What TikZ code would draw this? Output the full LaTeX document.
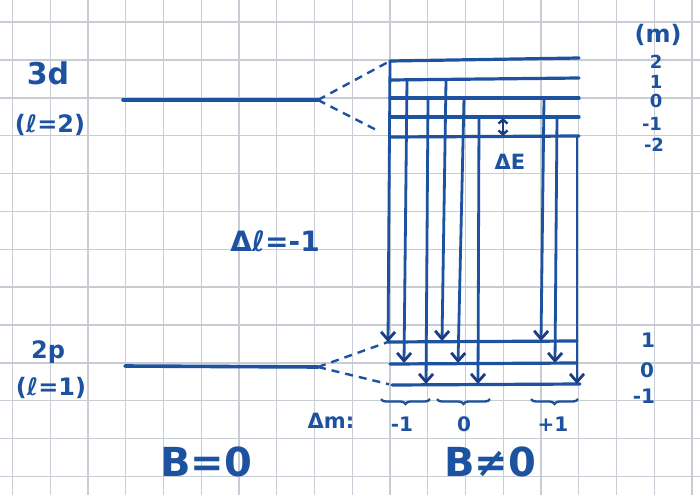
\documentclass[tikz,border=0pt]{standalone}
\usepackage{fontspec}
\setmainfont{DejaVu Sans}
\usetikzlibrary{arrows.meta,decorations.pathreplacing}
\definecolor{ink}{HTML}{1D52A0}
\definecolor{inkdark}{HTML}{1B3C85}
\definecolor{gridc}{HTML}{C8CCD4}
\begin{document}
\begin{tikzpicture}[x=1pt,y=-1pt,
  level/.style={ink, line width=3.6pt, line cap=round},
  sub/.style={ink, line width=3.2pt, line cap=round},
  trans/.style={ink, line width=2.8pt, -{Straight Barb[length=8pt,width=14pt,line width=2.8pt,color=inkdark]}},
  dsh/.style={ink, line width=2.4pt, dash pattern=on 8pt off 6pt},
  lab/.style={text=ink, inner sep=0pt, font=\bfseries},
  brc/.style={ink, line width=2.4pt, decorate, decoration={brace, amplitude=5pt}},
  gridline/.style={gridc, line width=1.4pt}]
\useasboundingbox (0,0) rectangle (700,495);
\fill[white] (0,0) rectangle (700,495);
% graph paper
\foreach \i in {0,...,18} \draw[gridline] ({12.5+37.75*\i},0) -- ++(0,495);
\foreach \j in {0,...,12} \draw[gridline] (0,{22.1+37.86*\j}) -- ++(700,0);

% unsplit levels
\coordinate (d3L) at (123,100); \coordinate (d3R) at (318,100);
\coordinate (p2L) at (125,366); \coordinate (p2R) at (318,367);
\draw[level] (d3L) -- (d3R);
\draw[level] (p2L) -- (p2R);

% split upper levels (3d)
\foreach \n/\y/\yr in {a/61/58, b/80/78, c/98/98, d/117/117, e/137/136}{
  \coordinate (uL\n) at (390,\y); \coordinate (uR\n) at (579,\yr);
  \draw[sub] (uL\n) -- (uR\n);
}
% split lower levels (2p)
\coordinate (lLa) at (388,342); \coordinate (lRa) at (577,341);
\coordinate (lLb) at (390,364); \coordinate (lRb) at (577,363);
\coordinate (lLc) at (392,385); \coordinate (lRc) at (580,384);
\draw[sub] (lLa) -- (lRa);
\draw[sub] (lLb) -- (lRb);
\draw[sub] (lLc) -- (lRc);

% dashed connectors
\draw[dsh] (d3R) -- (uLa);
\draw[dsh, shorten >=16pt] (d3R) -- (uLe);
\draw[dsh] (p2R) -- (lLa);
\draw[dsh, shorten >=3pt] (p2R) -- (lLc);

% transitions
\foreach \k/\xa/\ya/\xb/\yb in {
  1/390/61/388/342, 2/407/80/404/363, 3/428/98/426/384,
  4/446/80/442/341, 5/464/98/458/363, 6/479/117/478/384,
  7/544/98/541/341, 8/557/117/555/363, 9/577/136/577/384}{
  \coordinate (ta\k) at (\xa,\ya);
  \coordinate (tb\k) at (\xb,\yb);
  \draw[trans] (ta\k) -- (tb\k);
}

% Delta E
\coordinate (dEa) at (503,118); \coordinate (dEb) at (503,136);
\draw[inkdark, line width=2.4pt, {Straight Barb[length=4pt,width=9pt]}-{Straight Barb[length=4pt,width=9pt]}] (dEa) -- (dEb);
\node[lab, font=\bfseries\fontsize{21}{21}\selectfont] (dE) at (510,162) {ΔE};

% braces
\draw[brc] (430,399) -- (381,399);
\draw[brc] (490,399) -- (437,399);
\draw[brc] (578,399) -- (531,399);

% labels
\node[lab, font=\bfseries\fontsize{30}{30}\selectfont] (t3d) at (48,73) {3d};
\node[lab, font=\bfseries\fontsize{24}{24}\selectfont] (l2) at (50,125) {(ℓ=2)};
\node[lab, font=\bfseries\fontsize{24}{24}\selectfont] (t2p) at (48,352) {2p};
\node[lab, font=\bfseries\fontsize{24}{24}\selectfont] (l1) at (51,388) {(ℓ=1)};
\node[lab, font=\bfseries\fontsize{28}{28}\selectfont] (dl) at (275,241) {Δℓ=-1};
\node[lab, font=\bfseries\fontsize{24}{24}\selectfont] (mh) at (658,35) {(m)};
\node[lab, font=\bfseries\fontsize{18}{18}\selectfont] (u2) at (656,62) {2};
\node[lab, font=\bfseries\fontsize{18}{18}\selectfont] (u1) at (656,82) {1};
\node[lab, font=\bfseries\fontsize{18}{18}\selectfont] (u0) at (656,101) {0};
\node[lab, font=\bfseries\fontsize{18}{18}\selectfont] (um1) at (652,124) {-1};
\node[lab, font=\bfseries\fontsize{18}{18}\selectfont] (um2) at (654,145) {-2};
\node[lab, font=\bfseries\fontsize{20}{20}\selectfont] (d1) at (648,340) {1};
\node[lab, font=\bfseries\fontsize{20}{20}\selectfont] (d0) at (647,370) {0};
\node[lab, font=\bfseries\fontsize{20}{20}\selectfont] (dm1) at (644,396) {-1};
\node[lab, font=\bfseries\fontsize{21}{21}\selectfont] (dm) at (331,421) {Δm:};
\node[lab, font=\bfseries\fontsize{20}{20}\selectfont] (g1) at (402,424) {-1};
\node[lab, font=\bfseries\fontsize{20}{20}\selectfont] (g2) at (464,424) {0};
\node[lab, font=\bfseries\fontsize{20}{20}\selectfont] (g3) at (553,424) {+1};
\node[lab, font=\bfseries\fontsize{40}{40}\selectfont] (b0) at (206,462) {B=0};
\node[lab, font=\bfseries\fontsize{40}{40}\selectfont] (bn) at (490,462) {B≠0};
\end{tikzpicture}
\end{document}
